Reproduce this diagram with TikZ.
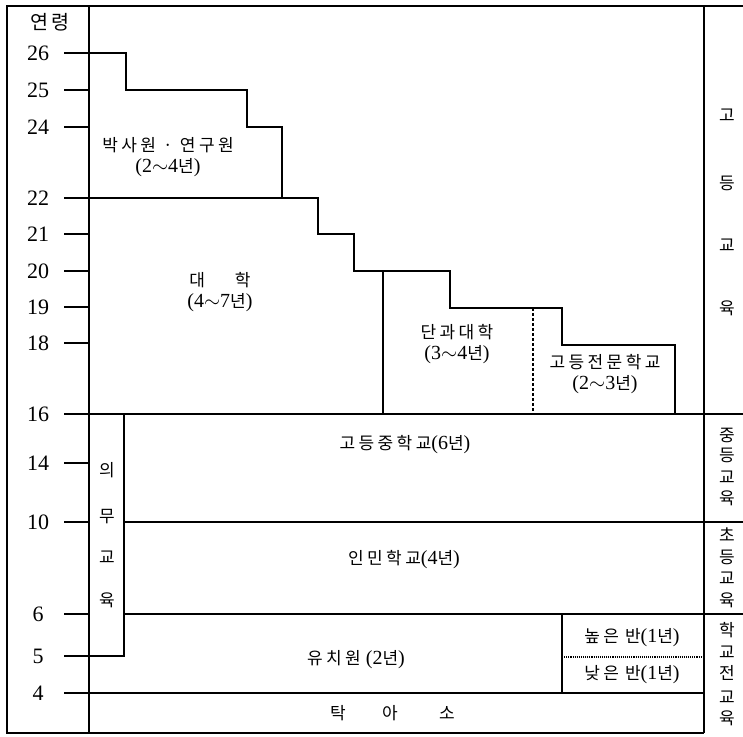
\documentclass[tikz,border=0pt]{standalone}
\usepackage{fontspec}
\setmainfont{Liberation Serif}
\newfontfamily\kr[Scale=0.85,LetterSpace=20]{Noto Sans CJK KR}
\newcommand\K[1]{{\kr #1}}
\begin{document}
\begin{tikzpicture}[x=1pt,y=-1pt,
  frame/.style={line width=1.8pt},
  ln/.style={line width=1.1pt},
  lbl/.style={font=\fontsize{20}{21}\selectfont, align=center, inner sep=0pt},
  num/.style={font=\fontsize{22}{24}\selectfont, inner sep=0pt},
  vch/.style={font=\fontsize{20}{21}\selectfont, inner sep=0pt}]
\useasboundingbox (0,0) rectangle (743,736);
% frame
\draw[frame] (743,6) -- (7,6) -- (7,733) -- (704,733);
\draw[ln] (89,6) -- (89,733);
\draw[ln] (704,6) -- (704,733);
% age labels and ticks
\node[lbl, font=\fontsize{23}{24}\selectfont] (age) at (50,22) {\K{연령}};
\foreach \a/\y in {26/53,25/90,24/127,22/198,21/234,20/271,19/307,18/343,16/414,14/463,10/522,6/614,5/656,4/693}{
  \node[num] (n\a) at (38,\y) {\a};
  \coordinate (t\a) at (64,\y);
  \draw[ln] (t\a) -- (89,\y);
}
% upper stairs
\draw[ln] (t26) -- (126,53) -- (126,90) -- (247,90) -- (247,127) -- (282,127) -- (282,198);
\draw[ln] (t22) -- (318,198) -- (318,234) -- (354,234) -- (354,271) -- (450,271) -- (450,308) -- (562,308) -- (562,345) -- (675,345) -- (675,414);
\draw[ln] (383,271) -- (383,414);
\draw[ln, densely dashed] (533,308) -- (533,414);
% lower part
\draw[ln] (t16) -- (743,414);
\draw[ln] (124,414) -- (124,656) -- (t5);
\draw[ln] (124,522) -- (743,522);
\draw[ln] (124,614) -- (743,614);
\draw[ln] (t4) -- (704,693);
\draw[ln] (562,614) -- (562,693);
\draw[ln, densely dotted] (562,657) -- (704,657);
% labels
\node[lbl] (phd) at (168,157) {\K{박사원 · 연구원}\\(2$\sim$4\K{년})};
\node[lbl] (univ) at (220,292) {\K{대}\hspace{30pt}\K{학}\\(4$\sim$7\K{년})};
\node[lbl] (coll) at (457,344) {\K{단과대학}\\(3$\sim$4\K{년})};
\node[lbl] (tech) at (605,374) {\K{고등전문학교}\\(2$\sim$3\K{년})};
\node[lbl] (hs) at (405,445) {\K{고등중학교}(6\K{년})};
\node[lbl] (ps) at (404,560) {\K{인민학교}(4\K{년})};
\node[lbl] (kg) at (356,660) {\K{유치원} (2\K{년})};
\node[lbl] (hi) at (632,638) {\K{높은}\hspace{6pt}\K{반}(1\K{년})};
\node[lbl] (lo) at (632,675) {\K{낮은}\hspace{6pt}\K{반}(1\K{년})};
\node[lbl] (tak) at (338,713) {\K{탁}};
\node[lbl] (a) at (390,713) {\K{아}};
\node[lbl] (so) at (447,713) {\K{소}};
% compulsory education
\foreach \c/\y [count=\i] in {의/470,무/517,교/557,육/600}
  \node[vch] (u\i) at (107,\y) {\K{\c}};
% right column
\foreach \c/\y [count=\i] in {고/115,등/183,교/245,육/308}
  \node[vch] (h\i) at (727,\y) {\K{\c}};
\foreach \c/\y [count=\i] in {중/435,등/455,교/477,육/498}
  \node[vch] (m\i) at (727,\y) {\K{\c}};
\foreach \c/\y [count=\i] in {초/535,등/557,교/578,육/600}
  \node[vch] (e\i) at (727,\y) {\K{\c}};
\foreach \c/\y [count=\i] in {학/630,교/652,전/673,교/697,육/718}
  \node[vch] (p\i) at (727,\y) {\K{\c}};
\end{tikzpicture}
\end{document}
